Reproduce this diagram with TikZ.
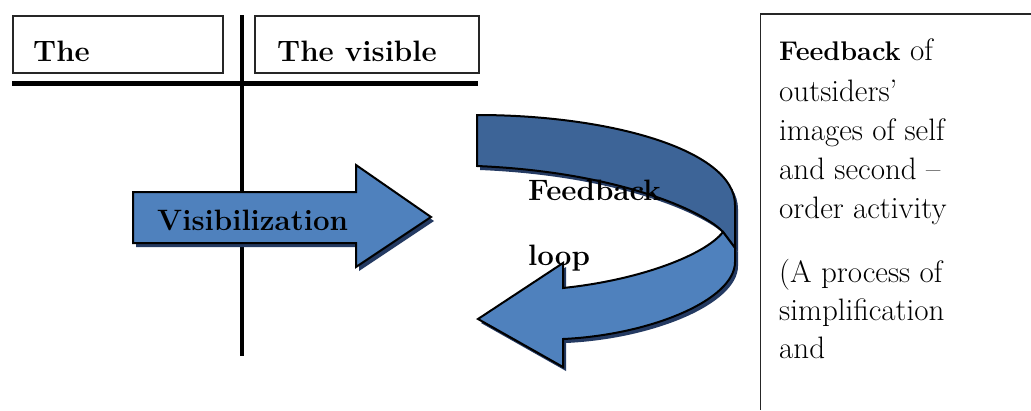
\documentclass[tikz,border=0pt]{standalone}
\definecolor{arrowblue}{RGB}{79,129,189}
\definecolor{backblue}{RGB}{61,100,151}
\definecolor{shadownavy}{RGB}{36,58,98}
\begin{document}
\begin{tikzpicture}[x=1pt,y=-1pt,
  boxline/.style={draw=black!85, line width=1.7pt},
  rule/.style={line width=4.5pt, line cap=butt},
  arrowfill/.style={fill=arrowblue, draw=black, line width=2pt, line join=miter},
  backfill/.style={fill=backblue, draw=black, line width=2pt, line join=miter},
  shadowfill/.style={fill=shadownavy},
  boldlbl/.style={inner sep=0pt, anchor=base west, font=\fontsize{29.5}{35}\selectfont\bfseries},
  txt/.style={inner sep=0pt, anchor=base west, font=\fontsize{31}{39}\selectfont}
]
\useasboundingbox (0,0) rectangle (1031,410);
\fill[white] (0,0) rectangle (1031,410);

% header boxes
\node[boxline, minimum width=210pt, minimum height=57pt, anchor=north west, inner sep=0pt] (boxThe) at (12,15) {};
\node[boxline, minimum width=224pt, minimum height=57pt, anchor=north west, inner sep=0pt] (boxVis) at (254,15) {};
\node[boldlbl] (tThe) at (33,61) {The};
\node[boldlbl] (tVis) at (277,61) {The visible};

% cross lines
\coordinate (hl) at (12,83.5);
\coordinate (hr) at (478,83.5);
\coordinate (vt) at (242,15);
\coordinate (vb) at (242,356);
\draw[rule] (hl) -- (hr);
\draw[rule] (vt) -- (vb);

% Visibilization arrow
\fill[shadowfill, shift={(3,4)}] (133,192) -- (356,192) -- (356,165) -- (431,217) -- (356,267) -- (356,243) -- (133,243) -- cycle;
\draw[arrowfill] (133,192) -- (356,192) -- (356,165) -- (431,217) -- (356,267) -- (356,243) -- (133,243) -- cycle;
\node[boldlbl] (tViz) at (157,230) {Visibilization};

% curved feedback arrow: shadows
\begin{scope}[shift={(3,4)}]
\fill[shadowfill] (477,115) .. controls (610,115) and (735,150) .. (735,205) -- (735,248) -- (723,232) .. controls (705,212) and (620,172) .. (477,166) -- cycle;
\fill[shadowfill] (723,232) -- (735,248) -- (735,262) .. controls (735,300) and (650,335) .. (563,339) -- (563,367) -- (478,319) -- (563,263) -- (563,288) .. controls (640,280) and (705,255) .. (723,232) -- cycle;
\end{scope}
% back band
\draw[backfill] (477,115) .. controls (610,115) and (735,150) .. (735,205) -- (735,248) -- (723,232) .. controls (705,212) and (620,172) .. (477,166) -- cycle;
% front band with head
\draw[arrowfill] (723,232) -- (735,248) -- (735,262) .. controls (735,300) and (650,335) .. (563,339) -- (563,367) -- (478,319) -- (563,263) -- (563,288) .. controls (640,280) and (705,255) .. (723,232) -- cycle;
\node[boldlbl] (tFb) at (528,200) {Feedback};
\node[boldlbl] (tLoop) at (528,265) {loop};

% right box
\coordinate (rbTR) at (1031,14.3);
\coordinate (rbTL) at (760.5,14.3);
\coordinate (rbBL) at (760.5,410);
\draw[boxline] (rbTR) -- (rbTL) -- (rbBL);
\node[txt] (r1) at (779,60) {\fontsize{27}{39}\selectfont\bfseries Feedback\fontsize{31}{39}\selectfont\mdseries{} of};
\node[txt] (r2) at (779,101) {outsiders'};
\node[txt] (r3) at (779,140) {images of self};
\node[txt] (r4) at (779,179) {and second --};
\node[txt] (r5) at (779,218) {order activity};
\node[txt] (r6) at (779,282) {(A process of};
\node[txt] (r7) at (779,320) {simplification};
\node[txt] (r8) at (779,358) {and};
\end{tikzpicture}
\end{document}
